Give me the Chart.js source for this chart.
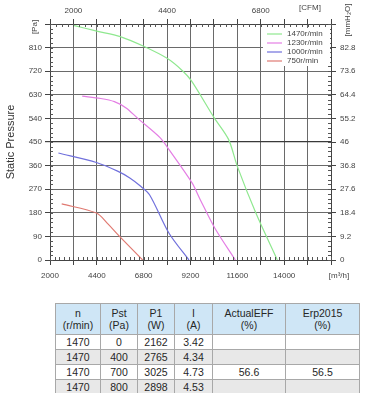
<!DOCTYPE html>
<html>
<head>
<meta charset="utf-8">
<script src="https://cdn.jsdelivr.net/npm/chart.js@4.4.1/dist/chart.umd.min.js"></script>
<style>
    html, body { margin: 0; padding: 0; background: #fff; }
    #wrap { position: relative; width: 366px; height: 393px; overflow: hidden; font-family: "Liberation Sans", Arial, sans-serif; }
    #grafico { position: absolute; left: 0; top: 0; }
    #tabla { position: absolute; left: 55px; top: 303px; border-collapse: collapse; table-layout: fixed; font-size: 10.5px; color: #262626; }
    #tabla th, #tabla td { border: 1px solid #a8a8a8; text-align: center; padding: 0; line-height: 12px; }
    #tabla th { background: #cfe6f6; font-weight: normal; height: 30px; }
    #tabla td { height: 14px; }
    #tabla tbody tr:nth-child(even) td { background: #e8e8e8; }
</style>
</head>
<body>
<div id="wrap">
    <canvas id="grafico" width="366" height="290"></canvas>
    <table id="tabla">
        <colgroup>
            <col style="width:45px"><col style="width:37px"><col style="width:37px">
            <col style="width:38px"><col style="width:73px"><col style="width:74px">
        </colgroup>
        <thead><tr id="cabecera"></tr></thead>
        <tbody></tbody>
    </table>
</div>
<script>
// curvas: caudal (m3/h) y presion estatica (Pa)
const caudal1470 = [3200, 4400, 5600, 6800, 8000, 8800, 9250, 10400, 11150, 11600, 12550, 13650];
const presion1470 = [895, 873, 852, 815, 769, 721, 683, 544, 460, 357, 179, 0];
const caudal1230 = [3650, 4600, 5300, 5900, 6500, 7650, 8100, 9280, 9700, 10450, 11500];
const presion1230 = [625, 616, 604, 580, 540, 466, 421, 294, 230, 121, 0];
const caudal1000 = [2430, 4380, 5490, 6090, 6600, 7100, 8100, 9120];
const presion1000 = [408, 372, 338, 313, 284, 249, 102, 0];
const caudal750 = [2600, 4380, 4980, 5490, 6750];
const presion750 = [214, 179, 137, 96, 0];

const etiquetasSerie = ['1470r/min', '1230r/min', '1000r/min', '750r/min'];
const coloresSerie = ['#8fe88f', '#e47ee4', '#7070dc', '#e07a72'];

// etiquetas de los ejes
const etiquetasCaudal = [2000, 4400, 6800, 9200, 11600, 14000];
const etiquetasCfm = [2000, 4400, 6800];
const etiquetasPa = [0, 90, 180, 270, 360, 450, 540, 630, 720, 810];
const etiquetasMm = ['0', '9.2', '18.4', '27.6', '36.8', '46', '55.2', '64.4', '73.6', '82.8'];

// tabla de ensayo
const cabeceraTabla = [['n', '(r/min)'], ['Pst', '(Pa)'], ['P1', '(W)'], ['I', '(A)'], ['ActualEFF', '(%)'], ['Erp2015', '(%)']];
const tablaN = [1470, 1470, 1470, 1470];
const tablaPst = [0, 400, 700, 800];
const tablaP1 = [2162, 2765, 3025, 2898];
const tablaI = ['3.42', '4.34', '4.73', '4.53'];
const tablaEff = ['', '', '56.6', ''];
const tablaErp = ['', '', '56.5', ''];

const rango = (desde, hasta, paso) => {
    const r = [];
    const n = Math.round((hasta - desde) / paso);
    for (let i = 0; i <= n; i++) r.push(Math.round((desde + i * paso) * 100) / 100);
    return r;
};

const puntos = (xs, ys) => xs.map((x, i) => ({ x, y: ys[i] }));

const marcasMenores = {
    id: 'marcasMenores',
    afterDraw(chart) {
        const { ctx, chartArea: a, scales } = chart;
        const l = 3;
        ctx.save();
        ctx.strokeStyle = '#555';
        ctx.lineWidth = 1;
        ctx.beginPath();
        rango(2000, 16400, 240).forEach((v) => {
            const px = Math.round(scales.x.getPixelForValue(v)) + 0.5;
            ctx.moveTo(px, a.bottom); ctx.lineTo(px, a.bottom - l);
        });
        rango(1400, 8600, 150).forEach((v) => {
            const px = Math.round(scales.xCfm.getPixelForValue(v)) + 0.5;
            ctx.moveTo(px, a.top); ctx.lineTo(px, a.top + l);
        });
        rango(0, 900, 18).forEach((v) => {
            const py = Math.round(scales.y.getPixelForValue(v)) + 0.5;
            ctx.moveTo(a.left, py); ctx.lineTo(a.left + l, py);
        });
        rango(0, 92, 1.84).forEach((v) => {
            const py = Math.round(scales.yMm.getPixelForValue(v)) + 0.5;
            ctx.moveTo(a.right, py); ctx.lineTo(a.right - l, py);
        });
        ctx.stroke();
        ctx.restore();
    }
};

const rotulos = {
    id: 'rotulos',
    afterDraw(chart) {
        const { ctx, chartArea: a } = chart;
        ctx.save();
        ctx.fillStyle = '#444';
        ctx.font = '8px "Liberation Sans", Arial, sans-serif';
        ctx.textAlign = 'center';
        ctx.textBaseline = 'middle';
        ctx.fillText('[CFM]', 310, 8);
        ctx.fillText('[m\u00b3/h]', 339, 276);
        ctx.save(); ctx.translate(35, 27); ctx.rotate(-Math.PI / 2); ctx.fillText('[Pa]', 0, 0); ctx.restore();
        ctx.save(); ctx.translate(348, 20); ctx.rotate(-Math.PI / 2); ctx.fillText('[mmH\u2082O]', 0, 0); ctx.restore();

        // leyenda con fondo blanco
        ctx.fillStyle = '#fff';
        ctx.fillRect(263, 28, a.right - 264, 38);
        ctx.textAlign = 'left';
        chart.data.datasets.forEach((ds, i) => {
            const y = 34 + i * 9;
            ctx.strokeStyle = ds.borderColor;
            ctx.lineWidth = 1.2;
            ctx.beginPath(); ctx.moveTo(267, y); ctx.lineTo(282, y); ctx.stroke();
            ctx.fillStyle = '#444';
            ctx.fillText(ds.label, 287, y);
        });
        ctx.restore();
    }
};

const fuenteEje = { size: 8, family: '"Liberation Sans", Arial, sans-serif' };

const crearGrafico = () => {
    const ctx = document.getElementById('grafico').getContext('2d');
    const series = [
        [caudal1470, presion1470], [caudal1230, presion1230], [caudal1000, presion1000], [caudal750, presion750]
    ];
    const data = {
        datasets: series.map(([xs, ys], i) => ({
            label: etiquetasSerie[i],
            data: puntos(xs, ys),
            borderColor: coloresSerie[i],
            borderWidth: 1.2,
            pointRadius: 0,
            tension: 0.3,
            fill: false
        }))
    };

    const config = {
        type: 'line',
        data,
        options: {
            responsive: false,
            animation: false,
            devicePixelRatio: 1,
            layout: { padding: 0, autoPadding: false },
            plugins: { legend: { display: false }, tooltip: { enabled: false } },
            scales: {
                x: {
                    type: 'linear', position: 'bottom', min: 2000, max: 16400,
                    afterBuildTicks: (s) => { s.ticks = rango(2000, 16400, 1200).map((v) => ({ value: v })); },
                    afterFit: (s) => { s.height = 30; },
                    ticks: {
                        autoSkip: false, maxRotation: 0, padding: 6, color: '#444', font: fuenteEje,
                        callback: (v) => etiquetasCaudal.includes(v) ? String(v) : ''
                    },
                    grid: { color: '#6a6a6a', tickColor: '#444', tickLength: 5 },
                    border: { color: '#444' }
                },
                xCfm: {
                    type: 'linear', position: 'top', min: 1400, max: 8600,
                    afterBuildTicks: (s) => { s.ticks = rango(1400, 8600, 600).map((v) => ({ value: v })); },
                    afterFit: (s) => { s.height = 24; },
                    ticks: {
                        autoSkip: false, maxRotation: 0, padding: 3, color: '#444', font: fuenteEje,
                        callback: (v) => etiquetasCfm.includes(v) ? String(v) : ''
                    },
                    grid: { drawOnChartArea: false, tickColor: '#444', tickLength: 5 },
                    border: { color: '#444' }
                },
                y: {
                    type: 'linear', position: 'left', min: 0, max: 900,
                    afterBuildTicks: (s) => { s.ticks = rango(0, 900, 90).map((v) => ({ value: v })); },
                    afterFit: (s) => { s.width = 50; },
                    title: { display: true, text: 'Static Pressure', color: '#333', font: { size: 11, family: '"Liberation Sans", Arial, sans-serif' }, padding: { top: 4, bottom: 0 } },
                    ticks: {
                        autoSkip: false, padding: 3, color: '#444', font: fuenteEje,
                        callback: (v) => etiquetasPa.includes(v) ? String(v) : ''
                    },
                    grid: {
                        color: (c) => c.tick && c.tick.value === 450 ? '#3a3a3a' : '#6a6a6a',
                        lineWidth: (c) => c.tick && c.tick.value === 450 ? 1.2 : 1,
                        tickColor: '#444', tickLength: 5
                    },
                    border: { color: '#444' }
                },
                yMm: {
                    type: 'linear', position: 'right', min: 0, max: 92,
                    afterBuildTicks: (s) => { s.ticks = rango(0, 92, 9.2).map((v) => ({ value: v })); },
                    afterFit: (s) => { s.width = 35; },
                    ticks: {
                        autoSkip: false, padding: 4, color: '#444', font: fuenteEje,
                        callback: (v, i) => etiquetasMm[i] ?? ''
                    },
                    grid: { drawOnChartArea: false, tickColor: '#444', tickLength: 5 },
                    border: { color: '#444' }
                }
            }
        },
        plugins: [marcasMenores, rotulos]
    };
    new Chart(ctx, config);
};

const mostrarTabla = () => {
    const cab = document.getElementById('cabecera');
    cabeceraTabla.forEach(([a, b]) => {
        const th = document.createElement('th');
        th.innerHTML = `${a}<br>${b}`;
        cab.appendChild(th);
    });
    const tbody = document.querySelector('#tabla tbody');
    tablaN.forEach((n, i) => {
        const tr = document.createElement('tr');
        tr.innerHTML = `
            <td>${n}</td>
            <td>${tablaPst[i]}</td>
            <td>${tablaP1[i]}</td>
            <td>${tablaI[i]}</td>
            <td>${tablaEff[i]}</td>
            <td>${tablaErp[i]}</td>
        `;
        tbody.appendChild(tr);
    });
};

crearGrafico();
mostrarTabla();
</script>
</body>
</html>
